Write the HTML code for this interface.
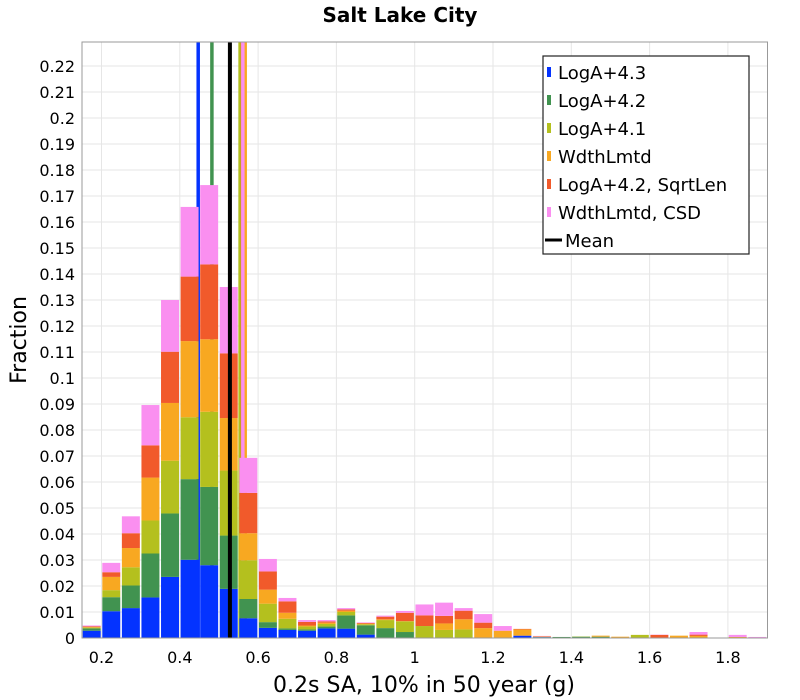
<!DOCTYPE html>
<html><head><meta charset="utf-8"><style>
body{margin:0;background:#fff;}
svg{display:block;font-family:"DejaVu Sans","Liberation Sans",sans-serif;}
</style></head><body>
<svg id="chart" width="800" height="700" viewBox="0 0 800 700" xmlns="http://www.w3.org/2000/svg">
<rect width="800" height="700" fill="#fff"/>
<text x="400" y="22" text-anchor="middle" font-size="20" font-weight="bold">Salt Lake City</text>
<g id="grid"></g><g id="means"></g><g id="bars"></g><g id="meanblack"></g>
<rect x="82" y="42" width="685.5" height="596" fill="none" stroke="#999"/>
<g id="yt"></g><g id="xt"></g>
<text transform="translate(26,340) rotate(-90)" text-anchor="middle" font-size="22">Fraction</text>
<text x="424" y="692" text-anchor="middle" font-size="22">0.2s SA, 10% in 50 year (g)</text>
<g id="legend"></g>
</svg>
<script>
const binStart = 0.15, binWidth = 0.05;
const seriesNames = ["LogA+4.3","LogA+4.2","LogA+4.1","WdthLmtd","LogA+4.2, SqrtLen","WdthLmtd, CSD"];
const seriesColors = ["#0433ff","#419350","#b4c01e","#f8a821","#f15a2b","#fa8ff0"];
const blue = [.0028,.0103,.0115,.0156,.0235,.0301,.028,.0189,.0076,.0039,.0031,.0028,.0037,.0036,.0013,0,0,0,0,0,0,0,.0009,.0003,0,0,0,0,0,0,0,0,0,0,0];
const green = [.0009,.0054,.0087,.0169,.0244,.031,.0301,.0205,.0074,.0022,.0006,.0005,.0007,.0051,.0036,.0038,.0023,0,0,0,0,0,0,.0001,.0004,.0005,.0005,0,0,0,0,0,0,0,0];
const yellowGreen = [.0003,.0027,.007,.0127,.0203,.0238,.0289,.025,.0149,.0071,.0037,.0011,.001,.0013,.0004,.0031,.0041,.0046,.0031,.0033,0,0,0,0,0,.0001,0,0,.0012,0,0,0,0,0,0];
const orange = [.0002,.0051,.0074,.0165,.0222,.0293,.0279,.0202,.0104,.0054,.0023,.0004,.0005,.0005,.0002,.0003,.0001,0,.0025,.0039,.0038,.0028,.0024,.0001,0,0,.0004,.0005,0,0,.0009,.0008,0,.0004,.0002];
const red = [.0003,.0018,.0057,.0124,.0197,.0248,.0288,.0249,.0155,.007,.0044,.0014,.0005,.0005,.0003,.001,.0032,.0041,.0029,.0033,.0021,0,.0002,.0002,0,0,0,0,0,.0012,0,.0005,0,0,0];
const pink = [.0003,.0036,.0065,.0155,.0199,.0268,.0305,.0255,.0135,.0048,.0013,.0007,.0005,.0005,.0002,.0004,.0007,.0042,.0051,.001,.0033,.0018,0,.0001,0,0,0,0,0,.0001,0,.001,0,.0008,.0002];
const seriesMeans = [0.447,0.482,0.554,0.567,0.56,0.561];
const overallMean = 0.528;
const xTicks = [0.2,0.4,0.6,0.8,1,1.2,1.4,1.6,1.8];
const xTickLabels = ["0.2","0.4","0.6","0.8","1","1.2","1.4","1.6","1.8"];
const yTicks = [0,0.01,0.02,0.03,0.04,0.05,0.06,0.07,0.08,0.09,0.1,0.11,0.12,0.13,0.14,0.15,0.16,0.17,0.18,0.19,0.2,0.21,0.22];
const yTickLabels = ["0","0.01","0.02","0.03","0.04","0.05","0.06","0.07","0.08","0.09","0.1","0.11","0.12","0.13","0.14","0.15","0.16","0.17","0.18","0.19","0.2","0.21","0.22"];

const NS="http://www.w3.org/2000/svg";
const X = v => 101.5 + (v-0.2)*391.5;
const Y = v => 638 - v*2600;
function mk(tag, attrs, parent){const e=document.createElementNS(NS,tag);for(const k in attrs)e.setAttribute(k,attrs[k]);parent.appendChild(e);return e;}
const grid=document.getElementById('grid'), yt=document.getElementById('yt'), xt=document.getElementById('xt');
yTicks.forEach((t,i)=>{
  const l=mk('line',{x1:82,x2:767,y1:Y(t),y2:Y(t),stroke:'#e6e6e6'},grid);
  
  
  const tx=mk('text',{x:75,y:Y(t)+6,'text-anchor':'end','font-size':16},yt);
  tx.textContent=yTickLabels[i];
  
  
});
xTicks.forEach((t,i)=>{
  const l=mk('line',{x1:X(t),x2:X(t),y1:42,y2:638,stroke:'#e6e6e6'},grid);
  
  
  const tx=mk('text',{x:X(t),y:663,'text-anchor':'middle','font-size':16},xt);
  tx.textContent=xTickLabels[i];
  
  
});
const means=document.getElementById('means');
seriesMeans.forEach((m,i)=>{
  const l=mk('line',{x1:X(m),x2:X(m),y1:42,y2:638,stroke:seriesColors[i],'stroke-width':3.5},means);
  
  
});
const bars=document.getElementById('bars');
const series=[blue,green,yellowGreen,orange,red,pink];
for(let b=0;b<blue.length;b++){
  let cum=0;
  const x0=X(binStart+b*binWidth), x1=X(binStart+(b+1)*binWidth);
  series.forEach((s,si)=>{
    const v=s[b]; if(!v) return;
    const r=mk('rect',{x:x0+0.8,width:x1-x0-1.6,y:Y(cum+v),height:Y(cum)-Y(cum+v),fill:seriesColors[si]},bars);
    
    
    cum+=v;
  });
}
const mb=mk('line',{x1:X(overallMean),x2:X(overallMean),y1:42,y2:638,stroke:'#000','stroke-width':4},document.getElementById('meanblack'));


const lg=document.getElementById('legend');
mk('rect',{x:543,y:56,width:206,height:198,fill:'#fff',stroke:'#222','stroke-width':1.2},lg);
seriesNames.forEach((n,i)=>{
  const yy=72+i*28;
  const sw=mk('rect',{x:547,y:yy-5,width:4,height:10,fill:seriesColors[i]},lg);
  
  
  const t=mk('text',{x:558,y:yy+7,'font-size':18},lg);
  t.textContent=n;
  
  
});
const ml=mk('line',{x1:545,x2:562,y1:240,y2:240,stroke:'#000','stroke-width':3},lg);


const mt=mk('text',{x:565,y:247,'font-size':18},lg);
mt.textContent='Mean';


</script>
</body></html>
